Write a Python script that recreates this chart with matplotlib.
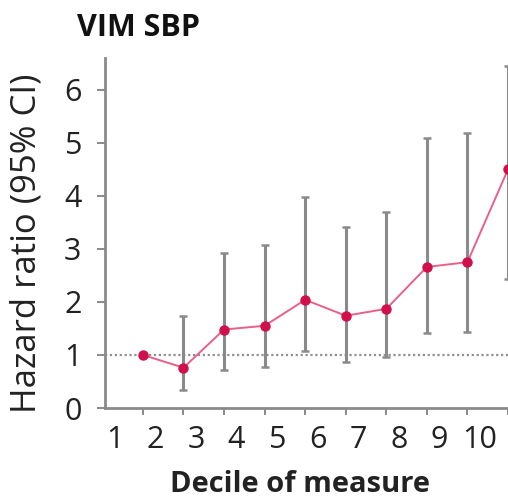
import matplotlib
matplotlib.use("Agg")
import matplotlib.pyplot as plt
import matplotlib.transforms as mtransforms
import numpy as np

plt.rcParams['font.family'] = ['Open Sans', 'DejaVu Sans']

# decile data
decile = [1, 2, 3, 4, 5, 6, 7, 8, 9, 10]
hr = [1.0, 0.76, 1.48, 1.55, 2.04, 1.74, 1.87, 2.66, 2.75, 4.5]
ci_low = [1.0, 0.34, 0.72, 0.78, 1.07, 0.87, 0.96, 1.42, 1.43, 2.43]
ci_high = [1.0, 1.73, 2.92, 3.08, 3.97, 3.42, 3.70, 5.09, 5.19, 6.45]
tick_labels = ['1', '2', '3', '4', '5', '6', '7', '8', '9', '10']

W, H = 508, 499
fig = plt.figure(figsize=(W / 100, H / 100), dpi=100)
ax = fig.add_axes([105 / W, (H - 408) / H, 1 - 105 / W, (408 - 58) / H])

grey = '#8a8a8a'
ax.axhline(1, color='#909090', lw=1.6, ls=(0, (1, 1.2)), zorder=1)

x = np.array(decile, dtype=float)
lo = np.array(hr) - np.array(ci_low)
hi = np.array(ci_high) - np.array(hr)
ax.errorbar(x[1:], np.array(hr)[1:], yerr=[lo[1:], hi[1:]], fmt='none',
            ecolor=grey, elinewidth=2.2, capsize=3, capthick=1.8, zorder=2)
ax.plot(x, hr, color='#e8608a', lw=1.4, zorder=3)
ax.plot(x, hr, 'o', color='#d0104a', ms=6.5, zorder=4)

ax.set_xlim(0.065, 10.0)
ax.set_ylim(0, 6.6)
ax.set_xticks(decile)
ax.set_xticklabels(tick_labels, fontsize=22, color='#222222')
ax.set_yticks([0, 1, 2, 3, 4, 5, 6])
ax.tick_params(axis='y', labelsize=22, labelcolor='#222222', direction='out',
               length=6, width=1.4, color=grey, pad=11)
ax.tick_params(axis='x', direction='out', length=5, width=1.4, color=grey, pad=7)

off = mtransforms.ScaledTranslation(-0.28, 0, fig.dpi_scale_trans)
for lab in ax.get_xticklabels():
    lab.set_transform(lab.get_transform() + off)

for s in ['top', 'right']:
    ax.spines[s].set_visible(False)
for s in ['left', 'bottom']:
    ax.spines[s].set_color(grey)
    ax.spines[s].set_linewidth(2)

fig.text(27 / W, 1 - 243 / H, 'Hazard ratio (95% CI)', fontsize=25,
         rotation=90, ha='center', va='center', color='#222222')
fig.text(300 / W, 1 - 484 / H, 'Decile of measure', fontsize=21,
         fontweight='bold', ha='center', va='center', color='#222222')
fig.text(77 / W, 1 - 28 / H, 'VIM SBP', fontsize=22, fontweight='bold',
         ha='left', va='center', color='#111111')

fig.savefig('out.png', dpi=100)
